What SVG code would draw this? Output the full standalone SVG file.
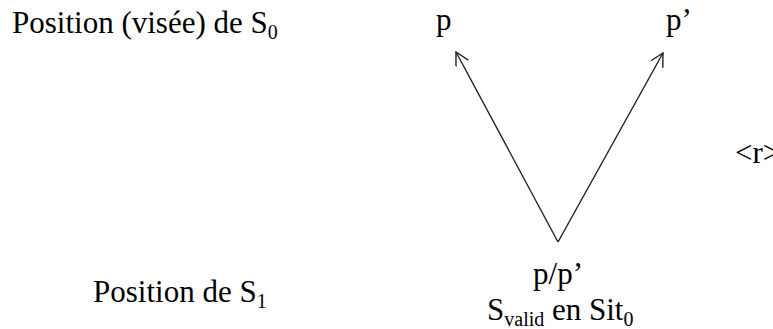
<svg xmlns="http://www.w3.org/2000/svg" width="773" height="329" viewBox="0 0 773 329">
<style>
text{font-family:"Liberation Serif","Times New Roman",serif;font-size:31px;fill:#000}
.sub{font-size:20px}
.c{stroke:#222;stroke-width:1.4;fill:none}
</style>
<defs>
<marker id="ah" markerWidth="20" markerHeight="20" refX="14" refY="7" orient="auto" markerUnits="userSpaceOnUse">
<path d="M1,0 L14,7 L1,14" fill="none" stroke="#222" stroke-width="1.4"/>
</marker>
</defs>
<rect width="773" height="329" fill="#fff"/>
<g id="connectors">
<line class="c" x1="558" y1="242" x2="456" y2="52" marker-end="url(#ah)"/>
<line class="c" x1="558" y1="242" x2="663" y2="53" marker-end="url(#ah)"/>
</g>
<g id="label-s0"><text x="12" y="33">Position (visée) de S<tspan class="sub" dy="6">0</tspan></text></g>
<g id="label-s1"><text x="93" y="302">Position de S<tspan class="sub" dy="6">1</tspan></text></g>
<g id="node-p"><text x="436" y="30">p</text></g>
<g id="node-p2"><text x="666" y="30">p’</text></g>
<g id="node-pp"><text x="558" y="284" text-anchor="middle">p/p’</text>
<text x="487" y="320">S<tspan class="sub" dy="6">valid</tspan><tspan dy="-6"> en Sit</tspan><tspan class="sub" dy="6">0</tspan></text></g>
<g id="node-r"><text x="735" y="163">&lt;r&gt;</text></g>
</svg>
